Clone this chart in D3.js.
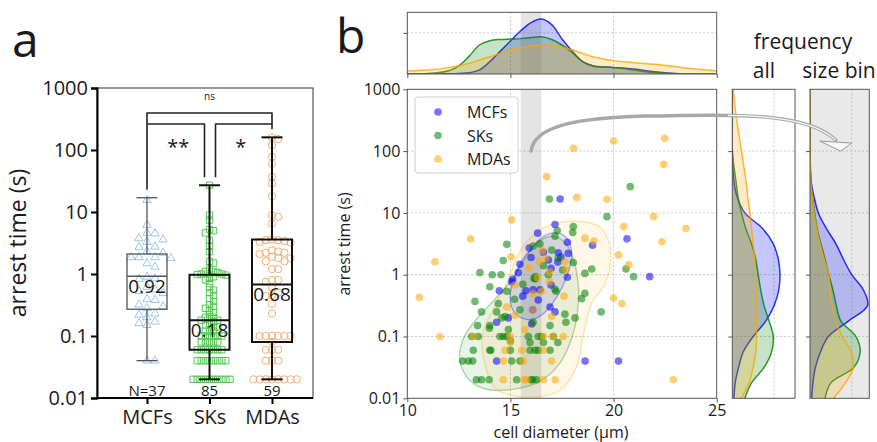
<!DOCTYPE html>
<html>
<head>
<meta charset="utf-8">
<script src="https://cdn.jsdelivr.net/npm/d3@7"></script>
<style>
  body { margin: 0; background: #fff; }
  svg text { font-family: "Open Sans", "DejaVu Sans", sans-serif; fill: #1a1a1a; }
</style>
</head>
<body>
<script>
// ---------- panel a data ----------
var groups = ["MCFs", "SKs", "MDAs"];
var nLabels = ["N=37", "85", "59"];
var boxMin = [0.04, 0.02, 0.02];
var boxQ1 = [0.27, 0.06, 0.08];
var boxMedian = [0.92, 0.18, 0.68];
var boxQ3 = [2.1, 0.97, 3.6];
var boxMax = [17, 27, 160];
var medianLabels = ["0.92", "0.18", "0.68"];
var yTicks = [0.01, 0.1, 1, 10, 100, 1000];

var mcfTimes = [15.6, 6.2, 4.6, 4.5, 3.76, 3.6, 3.3, 2.76, 2.7, 2.3, 2.2, 1.86, 1.86, 1.86, 1.8, 1.48, 1.31,
  0.9, 0.85, 0.83, 0.62, 0.56, 0.53, 0.49, 0.39, 0.38, 0.32, 0.3, 0.28, 0.23, 0.22, 0.2, 0.17, 0.16, 0.15, 0.04, 0.04];
var skTimes = [27, 8.9, 7.4, 5.2, 5.0, 4.6, 3.5, 2.8, 2.3, 1.6, 1.5, 1.2, 1.1, 1.1, 1.05, 1.0, 1.0, 1.0, 0.98, 0.96,
  0.9, 0.85, 0.8, 0.7, 0.6, 0.55, 0.5, 0.45, 0.4, 0.36, 0.32, 0.3, 0.28, 0.26, 0.24, 0.22, 0.2, 0.2, 0.19, 0.18,
  0.18, 0.17, 0.16, 0.15, 0.14, 0.14, 0.12, 0.12, 0.12, 0.1, 0.1, 0.1, 0.1, 0.1, 0.1, 0.08, 0.08, 0.08, 0.08, 0.08,
  0.06, 0.06, 0.06, 0.06, 0.06, 0.06, 0.06, 0.04, 0.04, 0.04, 0.04, 0.04, 0.04, 0.04, 0.04,
  0.02, 0.02, 0.02, 0.02, 0.02, 0.02, 0.02, 0.02, 0.02, 0.02];
var mdaTimes = [160, 150, 120, 78, 60, 37, 29, 18, 8.9, 8.4, 6.5, 3.6, 3.5, 3.5, 3.4, 3.3, 3.2, 2.4, 2.3, 2.2,
  2.2, 2.1, 1.9, 1.8, 1.8, 1.6, 1.6, 1.2, 1.2, 0.8, 0.8, 0.75, 0.6, 0.5, 0.45, 0.44, 0.33, 0.23, 0.1, 0.1,
  0.1, 0.1, 0.1, 0.1, 0.08, 0.06, 0.06, 0.06, 0.04, 0.04, 0.04, 0.02, 0.02, 0.02, 0.02, 0.02, 0.02, 0.02, 0.02];

var sigFrom = [0, 0, 1];
var sigTo = [2, 1, 2];
var sigText = ["ns", "**", "*"];

// ---------- panel b data: [cell diameter (µm), arrest time (s)] ----------
var mcfCells = [[17.41, 16.8], [17.16, 6.5], [16.32, 4.7], [17.76, 3.35], [18.98, 3.0], [20.65, 3.8], [15.91, 2.7],
  [17.32, 2.27], [17.8, 2.22], [17.45, 1.93], [16.84, 1.73], [15.46, 1.47], [15.38, 1.08], [16.97, 1.27], [17.76, 0.91],
  [21.75, 0.93], [15.06, 0.77], [16.97, 0.68], [14.46, 0.55], [15.75, 0.55], [16.1, 0.57], [16.43, 0.57], [16.35, 0.39],
  [16.92, 0.3], [17.16, 0.25], [16.08, 0.27], [14.33, 0.17], [14.9, 0.2], [16.03, 0.16], [14.33, 0.04], [18.62, 0.04],
  [20.24, 0.04], [15.11, 0.84], [16.6, 2.3], [17.3, 1.6], [16.0, 1.9], [15.6, 0.45]];
var skCells = [[16.89, 16.8], [20.81, 26.6], [19.68, 8.7], [17.27, 5.2], [18.05, 6.0], [18.02, 4.8], [17.16, 4.2],
  [14.82, 3.1], [16.43, 3.15], [16.1, 2.9], [17.0, 2.5], [14.65, 1.7], [17.32, 1.84], [18.05, 1.57], [17.53, 1.19],
  [13.52, 1.08], [14.12, 1.0], [14.54, 1.0], [16.84, 1.0], [18.61, 1.05], [18.94, 1.24], [20.6, 1.24], [20.97, 0.93],
  [16.22, 0.93], [16.14, 0.88], [16.2, 0.85], [14.0, 0.64], [17.16, 0.58], [17.21, 0.54], [14.82, 0.54], [18.61, 0.5],
  [18.45, 0.41], [19.4, 0.25], [13.28, 0.37], [14.41, 0.34], [14.33, 0.25], [14.74, 0.21], [15.46, 0.27], [16.1, 0.17],
  [16.92, 0.15], [17.64, 0.23], [17.69, 0.17], [18.13, 0.2], [13.41, 0.15], [14.0, 0.15], [13.98, 0.136], [14.58, 0.2],
  [13.12, 0.1], [13.44, 0.1], [14.49, 0.1], [14.65, 0.1], [14.82, 0.1], [15.87, 0.1], [16.35, 0.1], [16.51, 0.1],
  [17.08, 0.1], [15.0, 0.085], [15.95, 0.08], [16.6, 0.08], [17.3, 0.08], [13.2, 0.06], [14.0, 0.06], [14.05, 0.06],
  [15.0, 0.06], [15.95, 0.06], [16.19, 0.06], [16.35, 0.06], [16.92, 0.06], [12.68, 0.04], [12.96, 0.04], [13.17, 0.04],
  [15.06, 0.04], [15.46, 0.04], [13.35, 0.02], [13.6, 0.02], [13.97, 0.02], [15.3, 0.02], [16.08, 0.02], [16.27, 0.02],
  [16.0, 0.02], [15.2, 0.4], [15.6, 0.7], [16.6, 1.4], [14.9, 0.13], [13.6, 0.25]];
var mdaCells = [[18.06, 111], [20.0, 146], [22.48, 161], [22.43, 61], [16.76, 38.6], [18.22, 17.8], [19.68, 16.6],
  [21.94, 8.7], [23.51, 5.6], [20.49, 6.0], [15.06, 7.7], [13.07, 3.8], [18.61, 3.9], [19.05, 3.5], [22.35, 3.4],
  [20.24, 2.09], [20.73, 1.44], [15.03, 1.95], [16.55, 2.45], [16.7, 1.84], [16.4, 1.62], [17.64, 1.62], [17.69, 1.19],
  [11.34, 1.62], [15.22, 0.68], [16.89, 0.77], [16.08, 0.49], [16.51, 0.54], [20.0, 0.42], [20.4, 0.34], [10.58, 0.43],
  [14.82, 0.3], [17.0, 0.21], [16.08, 0.27], [11.59, 0.1], [13.2, 0.1], [15.0, 0.1], [16.6, 0.1], [17.08, 0.1],
  [17.56, 0.1], [15.0, 0.08], [14.74, 0.06], [15.54, 0.06], [16.6, 0.06], [14.66, 0.04], [15.62, 0.04], [17.0, 0.04],
  [14.65, 0.02], [15.65, 0.02], [15.8, 0.02], [16.6, 0.02], [17.17, 0.02], [22.9, 0.02], [15.22, 0.22], [15.7, 0.13],
  [16.3, 0.9], [15.9, 1.3], [16.9, 1.1], [17.6, 0.45]];

// density contours, [diameter, log10 arrest time]
var mcfContour = [[16.6, 0.62], [17.25, 0.68], [17.73, 0.59], [17.98, 0.35], [17.73, -0.03], [17.25, -0.36],
  [16.6, -0.63], [15.95, -0.73], [15.23, -0.63], [14.98, -0.36], [15.15, -0.09], [15.47, 0.18], [15.95, 0.4]];
var skContour = [[17.1, 0.62], [17.7, 0.5], [18.05, 0.25], [18.3, -0.2], [18.25, -0.6], [18.0, -1.0], [17.4, -1.43],
  [16.4, -1.73], [15.0, -1.86], [13.8, -1.85], [13.0, -1.7], [12.55, -1.4], [12.7, -1.05], [13.35, -0.72],
  [14.1, -0.45], [14.9, -0.15], [15.6, 0.2], [16.3, 0.52]];
var mdaContour = [[16.4, 0.72], [17.3, 0.84], [18.4, 0.86], [19.3, 0.78], [19.75, 0.55], [19.85, 0.15], [19.5, -0.2],
  [18.95, -0.45], [18.55, -0.95], [18.2, -1.5], [17.4, -1.87], [16.3, -1.98], [15.0, -1.95], [14.3, -1.85],
  [13.8, -1.5], [13.65, -0.95], [14.1, -0.6], [14.8, -0.15], [15.5, 0.4]];

var sizeBin = [15.5, 16.5];
var xTicksB = [10, 15, 20, 25];

// marginal densities along diameter
var topDiam = [10, 11, 12, 12.5, 13, 13.5, 14, 14.5, 15, 15.5, 16, 16.5, 17, 17.5, 18, 18.5, 19, 20, 21, 22, 23, 24, 25];
var topMCF = [0, 0, 0.001, 0.003, 0.006, 0.02, 0.06, 0.11, 0.16, 0.21, 0.25, 0.267, 0.24, 0.17, 0.11, 0.06, 0.039, 0.032, 0.024, 0.011, 0.003, 0, 0];
var topSK = [0, 0.002, 0.016, 0.04, 0.087, 0.141, 0.162, 0.168, 0.17, 0.172, 0.177, 0.181, 0.168, 0.141, 0.104, 0.06, 0.04, 0.031, 0.019, 0.006, 0.001, 0, 0];
var topMDA = [0.015, 0.019, 0.031, 0.04, 0.052, 0.068, 0.084, 0.1, 0.117, 0.128, 0.136, 0.141, 0.138, 0.13, 0.117, 0.1, 0.084, 0.065, 0.055, 0.047, 0.036, 0.024, 0.015];

// marginal densities along log10 arrest time
var sideLogT = [3, 2.5, 2, 1.5, 1.25, 1, 0.75, 0.5, 0.25, 0, -0.25, -0.5, -0.75, -1, -1.25, -1.5, -1.75, -2];
var allMCF = [0, 0, 0, 0.02, 0.06, 0.15, 0.36, 0.49, 0.55, 0.57, 0.555, 0.5, 0.4, 0.25, 0.13, 0.075, 0.035, 0.02];
var allSK = [0, 0, 0, 0.045, 0.07, 0.11, 0.16, 0.23, 0.28, 0.31, 0.34, 0.38, 0.44, 0.49, 0.47, 0.38, 0.23, 0.15];
var allMDA = [0.012, 0.052, 0.11, 0.165, 0.185, 0.21, 0.23, 0.25, 0.27, 0.28, 0.285, 0.29, 0.29, 0.29, 0.28, 0.25, 0.2, 0.11];
var binMCF = [0, 0, 0, 0.03, 0.1, 0.2, 0.39, 0.62, 0.8, 1.0, 1.28, 1.38, 0.92, 0.44, 0.25, 0.13, 0.07, 0.04];
var binSK = [0, 0, 0, 0.02, 0.06, 0.11, 0.17, 0.26, 0.36, 0.45, 0.55, 0.63, 0.74, 1.1, 1.2, 1.05, 0.5, 0.36];
var binMDA = [0, 0, 0, 0.02, 0.06, 0.1, 0.16, 0.24, 0.34, 0.45, 0.48, 0.53, 0.62, 0.77, 0.99, 1.04, 0.85, 0.56];

// ---------- styles ----------
var lightColors = ["#9ec4ec", "#55c655", "#f6ac74"];
var mainColors = ["#0000ff", "#008000", "#ffa500"];
var rgb = ["0,0,255", "0,128,0", "255,165,0"];

var svg = d3.select("body").append("svg")
    .attr("width", 877)
    .attr("height", 442);

// ================= panel a =================
var yA = d3.scaleLog().domain([0.01, 1000]).range([398, 88]);
var xA = d3.scalePoint().domain(groups).range([147, 272]);

svg.append("text").attr("x", 12).attr("y", 57).style("font-size", "48px").text("a");

// beeswarm-ish spread of equal values
function swarm(values, cx, step) {
    var placed = [];
    values.slice().sort(d3.descending).forEach(function(v) {
        var y = yA(v), k = 0, x;
        while (true) {
            x = cx + (k % 2 ? 1 : -1) * Math.ceil(k / 2) * step;
            var free = placed.every(function(p) { return Math.hypot(p.x - x, p.y - y) >= step * 0.95; });
            if (free || k > 40) break;
            k++;
        }
        placed.push({x: x, y: y});
    });
    return placed;
}

var times = [mcfTimes, skTimes, mdaTimes];
var steps = [8, 4.1, 6.2];
var symbolTypes = [d3.symbolTriangle, d3.symbolSquare, d3.symbolCircle];
var symbolSizes = [30, 40, 42];

times.forEach(function(vals, i) {
    svg.append("g").selectAll("path")
        .data(swarm(vals, xA(groups[i]), steps[i]))
        .enter().append("path")
            .attr("transform", function(d) { return "translate(" + d.x + "," + d.y + ")"; })
            .attr("d", d3.symbol().type(symbolTypes[i]).size(symbolSizes[i]))
            .attr("fill", "none")
            .attr("stroke", lightColors[i])
            .attr("stroke-width", 1);
});

// boxes
var bw = 40, cap = 21;
groups.forEach(function(g, i) {
    var cx = xA(g);
    var col = i === 0 ? "#555" : "#111";
    var sw = i === 0 ? 1.3 : 2;
    var gb = svg.append("g").attr("stroke", col).attr("stroke-width", sw).attr("fill", "none");
    gb.append("line").attr("x1", cx).attr("x2", cx).attr("y1", yA(boxMax[i])).attr("y2", yA(boxQ3[i]));
    gb.append("line").attr("x1", cx).attr("x2", cx).attr("y1", yA(boxQ1[i])).attr("y2", yA(boxMin[i]));
    gb.append("line").attr("x1", cx - cap / 2).attr("x2", cx + cap / 2).attr("y1", yA(boxMax[i])).attr("y2", yA(boxMax[i]));
    gb.append("line").attr("x1", cx - cap / 2).attr("x2", cx + cap / 2).attr("y1", yA(boxMin[i])).attr("y2", yA(boxMin[i]));
    gb.append("rect").attr("x", cx - bw / 2).attr("width", bw)
        .attr("y", yA(boxQ3[i])).attr("height", yA(boxQ1[i]) - yA(boxQ3[i]));
    gb.append("line").attr("x1", cx - bw / 2).attr("x2", cx + bw / 2).attr("y1", yA(boxMedian[i])).attr("y2", yA(boxMedian[i]));
    svg.append("text").attr("x", cx).attr("y", yA(boxMedian[i]) + 17)
        .attr("text-anchor", "middle").style("font-size", "19px").text(medianLabels[i]);
    svg.append("text").attr("x", cx).attr("y", 396)
        .attr("text-anchor", "middle").style("font-size", "15px").text(nLabels[i]);
});

// significance brackets
var sig = svg.append("g").attr("stroke", "#222").attr("stroke-width", 1.6).attr("fill", "none")
    .attr("stroke-linejoin", "round");
sigFrom.forEach(function(a, k) {
    var b = sigTo[k];
    var wide = (b - a) > 1;
    var yb = wide ? 113 : 124;
    var x1 = xA(groups[a]) + (!wide && a === 1 ? 6 : 0);
    var x2 = xA(groups[b]) - (!wide && b === 1 ? 5 : 0);
    var y1 = wide ? 124 : yA(boxMax[a]) - 8;
    var y2 = wide ? 124 : yA(boxMax[b]) - 8;
    sig.append("path").attr("d", "M" + x1 + "," + y1 + "V" + yb + "H" + x2 + "V" + y2);
    svg.append("text")
        .attr("x", (xA(groups[a]) + xA(groups[b])) / 2)
        .attr("y", wide ? 100 : 154)
        .attr("text-anchor", "middle")
        .style("font-size", wide ? "10px" : "20px")
        .text(sigText[k]);
});

// frame + axes
svg.append("rect").attr("x", 97).attr("y", 88).attr("width", 216).attr("height", 310)
    .attr("fill", "none").attr("stroke", "#333").attr("stroke-width", 1);
var axA = svg.append("g").attr("transform", "translate(97,0)")
    .call(d3.axisLeft(yA).tickValues(yTicks).tickFormat(String).tickSize(6).tickPadding(3));
axA.select(".domain").attr("stroke-width", 2);
axA.selectAll(".tick line").attr("stroke-width", 2);
axA.selectAll("text").style("font-size", "20px");
var axAx = svg.append("g").attr("transform", "translate(0,398)")
    .call(d3.axisBottom(xA).tickSize(6).tickPadding(6));
axAx.select(".domain").remove();
axAx.selectAll(".tick line").attr("stroke-width", 2);
axAx.selectAll("text").style("font-size", "20px");
svg.append("line").attr("x1", 96).attr("x2", 313).attr("y1", 398).attr("y2", 398)
    .attr("stroke", "#000").attr("stroke-width", 2);
svg.append("text").attr("transform", "translate(26,243) rotate(-90)")
    .attr("text-anchor", "middle").style("font-size", "23px").text("arrest time (s)");

// ================= panel b =================
var xB = d3.scaleLinear().domain([10, 25]).range([407.3, 716.7]);
var yB = d3.scaleLog().domain([0.01, 1000]).range([398.3, 89.3]);
var yTop = d3.scaleLinear().domain([0, 0.3]).range([74, 12.3]);
var xAll = d3.scaleLinear().domain([0, 0.75]).range([732.3, 795]);
var xBin = d3.scaleLinear().domain([0, 1.42]).range([810, 869.3]);

svg.append("text").attr("x", 336).attr("y", 53).style("font-size", "48px").text("b");

var frameCol = "#555";
var gridStyle = function(sel) {
    sel.attr("stroke", "#b8b8b8").attr("stroke-width", 0.8).attr("stroke-dasharray", "2,2");
};

// clip paths
var defs = svg.append("defs");
function clip(id, x, y, w, h) {
    defs.append("clipPath").attr("id", id).append("rect").attr("x", x).attr("y", y).attr("width", w).attr("height", h);
}
clip("cMain", 407.3, 89.3, 309.4, 309);
clip("cTop", 407.3, 12.3, 309.4, 61.7);
clip("cAll", 732.3, 89.3, 62.7, 309);
clip("cBin", 810, 89.3, 59.3, 309);
clip("cSide", 728, 80, 149, 100);

// ---- top marginal ----
var gTop = svg.append("g");
gTop.append("rect").attr("x", xB(sizeBin[0])).attr("width", xB(sizeBin[1]) - xB(sizeBin[0]))
    .attr("y", yTop(0.3)).attr("height", yTop(0) - yTop(0.3)).attr("fill", "#e4e4e4");
[15, 20].forEach(function(v) {
    gTop.append("line").attr("x1", xB(v)).attr("x2", xB(v)).attr("y1", yTop(0)).attr("y2", yTop(0.3)).call(gridStyle);
});
gTop.append("line").attr("x1", xB(10)).attr("x2", xB(25)).attr("y1", yTop(0.2)).attr("y2", yTop(0.2)).call(gridStyle);

var topArea = d3.area()
    .x(function(d) { return xB(d[0]); })
    .y0(yTop(0))
    .y1(function(d) { return yTop(d[1]); })
    .curve(d3.curveCatmullRom);
var gTopC = gTop.append("g").attr("clip-path", "url(#cTop)");
[topMCF, topSK, topMDA].forEach(function(arr, i) {
    var pts = d3.zip(topDiam, arr);
    gTopC.append("path").attr("d", topArea(pts))
        .attr("fill", "rgba(" + rgb[i] + ",0.22)").attr("stroke", "none");
    gTopC.append("path").attr("d", topArea.lineY1()(pts))
        .attr("fill", "none").attr("stroke", mainColors[i]).attr("stroke-width", 1.5).attr("stroke-opacity", 0.8);
});
gTop.append("rect").attr("x", 407.3).attr("y", 12.3).attr("width", 309.4).attr("height", 61.7)
    .attr("fill", "none").attr("stroke", frameCol);
var axT = gTop.append("g").attr("transform", "translate(0,74)")
    .call(d3.axisBottom(xB).tickValues(xTicksB).tickFormat("").tickSize(4));
var axTl = gTop.append("g").attr("transform", "translate(407.3,0)")
    .call(d3.axisLeft(yTop).tickValues([0.2]).tickFormat("").tickSize(4));
[axT, axTl].forEach(function(a) { a.select(".domain").remove(); a.selectAll("line").attr("stroke", frameCol); });

// ---- main scatter ----
var gMain = svg.append("g");
gMain.append("rect").attr("x", xB(sizeBin[0])).attr("width", xB(sizeBin[1]) - xB(sizeBin[0]))
    .attr("y", 89.3).attr("height", 309).attr("fill", "#e4e4e4");
[15, 20].forEach(function(v) {
    gMain.append("line").attr("x1", xB(v)).attr("x2", xB(v)).attr("y1", 89.3).attr("y2", 398.3).call(gridStyle);
});
[0.1, 1, 10, 100].forEach(function(v) {
    gMain.append("line").attr("x1", 407.3).attr("x2", 716.7).attr("y1", yB(v)).attr("y2", yB(v)).call(gridStyle);
});

var contourLine = d3.line()
    .x(function(d) { return xB(d[0]); })
    .y(function(d) { return yB(Math.pow(10, d[1])); })
    .curve(d3.curveCatmullRomClosed.alpha(0.5));
var gCont = gMain.append("g").attr("clip-path", "url(#cMain)");
[skContour, mdaContour, mcfContour].forEach(function(c, j) {
    var i = [1, 2, 0][j];
    gCont.append("path").attr("d", contourLine(c))
        .attr("fill", "rgba(" + rgb[i] + "," + (i === 0 ? 0.1 : 0.09) + ")")
        .attr("stroke", "rgba(" + rgb[i] + ",0.3)").attr("stroke-width", 1.4);
});

var gPts = gMain.append("g").attr("clip-path", "url(#cMain)");
[mcfCells, skCells, mdaCells].forEach(function(cells, i) {
    gPts.append("g").selectAll("circle")
        .data(cells)
        .enter().append("circle")
            .attr("cx", function(d) { return xB(d[0]); })
            .attr("cy", function(d) { return yB(d[1]); })
            .attr("r", 3.8)
            .attr("fill", mainColors[i])
            .attr("fill-opacity", 0.55);
});

// legend
var leg = gMain.append("g").attr("transform", "translate(415,97)");
leg.append("rect").attr("width", 103).attr("height", 76).attr("rx", 3)
    .attr("fill", "rgba(255,255,255,0.85)").attr("stroke", "#d0d0d0");
groups.forEach(function(g, i) {
    var ly = 15 + i * 23.5;
    leg.append("circle").attr("cx", 23).attr("cy", ly).attr("r", 3.8)
        .attr("fill", mainColors[i]).attr("fill-opacity", 0.55);
    leg.append("text").attr("x", 52).attr("y", ly + 6).style("font-size", "16px").text(g);
});

gMain.append("rect").attr("x", 407.3).attr("y", 89.3).attr("width", 309.4).attr("height", 309)
    .attr("fill", "none").attr("stroke", frameCol);
var axBy = gMain.append("g").attr("transform", "translate(407.3,0)")
    .call(d3.axisLeft(yB).tickValues(yTicks).tickFormat(String).tickSize(4).tickPadding(3));
var axBx = gMain.append("g").attr("transform", "translate(0,398.3)")
    .call(d3.axisBottom(xB).tickValues(xTicksB).tickFormat(String).tickSize(4).tickPadding(2));
[axBy, axBx].forEach(function(a) {
    a.select(".domain").remove();
    a.selectAll("line").attr("stroke", frameCol);
    a.selectAll("text").style("font-size", "16px");
});
svg.append("text").attr("x", 561).attr("y", 438).attr("text-anchor", "middle")
    .style("font-size", "16px").text("cell diameter (µm)");
svg.append("text").attr("transform", "translate(350,244) rotate(-90)")
    .attr("text-anchor", "middle").style("font-size", "16px").text("arrest time (s)");

// ---- right marginals ----
function sidePanel(xs, clipId, series, gridAt, bg) {
    var g = svg.append("g");
    var x0 = xs.range()[0], x1 = xs.range()[1];
    g.append("rect").attr("x", x0).attr("y", 89.3).attr("width", x1 - x0).attr("height", 309).attr("fill", bg);
    g.append("line").attr("x1", xs(gridAt)).attr("x2", xs(gridAt)).attr("y1", 89.3).attr("y2", 398.3).call(gridStyle);
    [0.1, 1, 10, 100].forEach(function(v) {
        g.append("line").attr("x1", x0).attr("x2", x1).attr("y1", yB(v)).attr("y2", yB(v)).call(gridStyle);
    });
    var area = d3.area()
        .y(function(d) { return yB(Math.pow(10, d[0])); })
        .x0(xs(0))
        .x1(function(d) { return xs(d[1]); })
        .curve(d3.curveCatmullRom);
    var gc = g.append("g").attr("clip-path", "url(#" + clipId + ")");
    series.forEach(function(arr, i) {
        var pts = d3.zip(sideLogT, arr);
        gc.append("path").attr("d", area(pts)).attr("fill", "rgba(" + rgb[i] + ",0.22)");
        gc.append("path").attr("d", area.lineX1()(pts))
            .attr("fill", "none").attr("stroke", mainColors[i]).attr("stroke-width", 1.5).attr("stroke-opacity", 0.8);
    });
    g.append("rect").attr("x", x0).attr("y", 89.3).attr("width", x1 - x0).attr("height", 309)
        .attr("fill", "none").attr("stroke", frameCol);
    var ax = g.append("g").attr("transform", "translate(" + x0 + ",0)")
        .call(d3.axisLeft(yB).tickValues([0.1, 1, 10, 100]).tickFormat("").tickSize(4));
    ax.select(".domain").remove();
    ax.selectAll("line").attr("stroke", frameCol);
}
sidePanel(xAll, "cAll", [allMCF, allSK, allMDA], 0.5, "#fff");
sidePanel(xBin, "cBin", [binMCF, binSK, binMDA], 1.0, "#e9e9e9");

svg.append("text").attr("x", 803).attr("y", 49).attr("text-anchor", "middle").style("font-size", "21px").text("frequency");
svg.append("text").attr("x", 764).attr("y", 78).attr("text-anchor", "middle").style("font-size", "21px").text("all");
svg.append("text").attr("x", 839).attr("y", 78).attr("text-anchor", "middle").style("font-size", "21px").text("size bin");

// ---- arrow from the size bin to its marginal ----
var p0 = [xB((sizeBin[0] + sizeBin[1]) / 2), yB(100)];
var tip = [xBin(1.0), yB(Math.pow(10, 2.13))];
var arrow = d3.path();
arrow.moveTo(p0[0], p0[1]);
arrow.bezierCurveTo(p0[0] + 3, p0[1] - 26, p0[0] + 48, p0[1] - 33, p0[0] + 113, p0[1] - 35);
arrow.bezierCurveTo(p0[0] + 193, p0[1] - 36, p0[0] + 273, p0[1] - 41, tip[0] - 16, tip[1] - 3);
svg.append("path").attr("d", arrow.toString())
    .attr("fill", "none").attr("stroke", "#a8a8a8").attr("stroke-width", 3.5).attr("stroke-linecap", "round");
svg.append("path").attr("d", arrow.toString())
    .attr("fill", "none").attr("stroke", "#f6f6f6").attr("stroke-width", 1.2).attr("clip-path", "url(#cSide)");
svg.append("path")
    .attr("d", "M" + (tip[0] - 32) + "," + (tip[1] - 2) + "L" + tip[0] + "," + tip[1] + "L" + (tip[0] - 11) + "," + (tip[1] + 8) + "Z")
    .attr("fill", "#f8f8f8").attr("stroke", "#999").attr("stroke-width", 1);
</script>
</body>
</html>
